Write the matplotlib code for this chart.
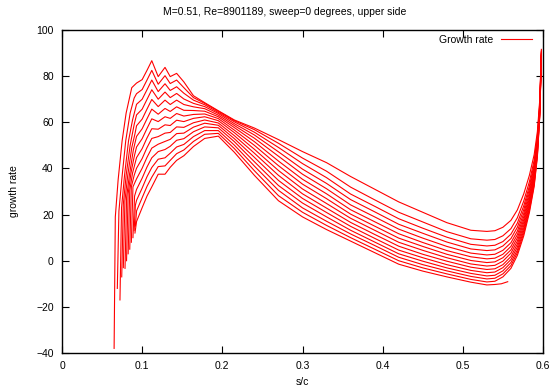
import matplotlib
matplotlib.use("Agg")
import matplotlib.pyplot as plt
from matplotlib.ticker import FuncFormatter

plt.rcParams['font.family'] = ['Liberation Sans', 'DejaVu Sans']

title = "M=0.51, Re=8901189, sweep=0 degrees, upper side"
xlabel = "s/c"
ylabel = "growth rate"
legend_label = "Growth rate"

# shared s/c grid for the middle part of every curve
GRID_X = [0.093, 0.100, 0.106, 0.112, 0.120, 0.1285, 0.135, 0.143, 0.152, 0.164,
          0.178, 0.195, 0.215, 0.24, 0.27, 0.30, 0.33, 0.36, 0.39, 0.42, 0.45,
          0.48, 0.51, 0.53]

# growth rate of each curve on GRID_X (top curve first)
GRID_Y = [
    [77, 78.5, 82.5, 86.7, 79.8, 83.8, 79.8, 81.2, 77.5, 71.5, 68.5, 65, 61, 57.5, 52.5, 47.3, 42.5, 36.5, 31, 25.5, 21, 16.5, 13.2, 12.7],
    [72.4, 74.2, 78.3, 82.5, 76.5, 80.2, 76.8, 78.3, 75.0, 70.7, 68.2, 64.8, 60.7, 56.8, 50.9, 44.5, 38.8, 31.9, 26.4, 21.0, 16.8, 12.6, 9.5, 8.9],
    [67.8, 70.0, 74.1, 78.3, 73.3, 76.7, 73.8, 75.4, 72.6, 69.6, 67.6, 64.3, 60.2, 55.7, 49.1, 42.1, 36.0, 28.9, 23.6, 18.2, 14.1, 10.2, 7.1, 6.4],
    [63.2, 65.7, 69.9, 74.1, 70.0, 73.1, 70.7, 72.5, 70.1, 68.2, 66.8, 63.8, 59.4, 54.5, 47.2, 39.7, 33.5, 26.5, 21.2, 15.8, 11.9, 8.1, 5.1, 4.4],
    [58.5, 61.4, 65.7, 69.9, 66.8, 69.6, 67.7, 69.6, 67.7, 66.7, 65.9, 63.1, 58.6, 53.1, 45.3, 37.5, 31.2, 24.2, 19.0, 13.7, 9.8, 6.2, 3.3, 2.5],
    [53.9, 57.2, 61.5, 65.7, 63.5, 66.0, 64.7, 66.7, 65.2, 65.1, 64.8, 62.4, 57.7, 51.6, 43.2, 35.3, 29.0, 22.1, 16.9, 11.7, 7.9, 4.4, 1.7, 0.8],
    [49.3, 52.9, 57.3, 61.5, 60.3, 62.4, 61.7, 63.8, 62.7, 63.4, 63.6, 61.6, 56.6, 50.0, 41.2, 33.2, 26.9, 20.2, 15.0, 9.8, 6.2, 2.8, 0.1, -0.8],
    [44.7, 48.6, 53.2, 57.2, 57.0, 58.9, 58.6, 60.9, 60.3, 61.7, 62.4, 60.7, 55.5, 48.3, 39.1, 31.1, 24.8, 18.4, 13.2, 8.0, 4.5, 1.3, -1.4, -2.3],
    [40.1, 44.3, 49.0, 53.0, 53.8, 55.3, 55.6, 58.0, 57.8, 59.8, 61.0, 59.7, 54.2, 46.6, 37.0, 29.0, 22.8, 16.6, 11.4, 6.3, 2.8, -0.2, -2.8, -3.8],
    [35.5, 40.1, 44.8, 48.8, 50.5, 51.7, 52.6, 55.1, 55.3, 57.9, 59.6, 58.7, 52.9, 44.8, 34.8, 27.0, 20.9, 14.9, 9.7, 4.6, 1.3, -1.7, -4.2, -5.2],
    [30.9, 35.8, 40.6, 44.6, 47.3, 48.2, 49.6, 52.2, 52.9, 55.9, 58.0, 57.6, 51.6, 42.9, 32.6, 25.0, 19.0, 13.2, 8.1, 3.0, -0.2, -3.1, -5.5, -6.6],
    [26.2, 31.5, 36.4, 40.4, 44.0, 44.6, 46.6, 49.3, 50.4, 53.8, 56.4, 56.4, 50.1, 41.0, 30.5, 22.9, 17.1, 11.6, 6.6, 1.5, -1.7, -4.4, -6.8, -7.9],
    [21.6, 27.3, 32.2, 36.2, 40.8, 41.1, 43.5, 46.4, 48.0, 51.7, 54.8, 55.2, 48.6, 39.0, 28.2, 21.0, 15.3, 10.0, 5.0, 0.0, -3.1, -5.7, -8.1, -9.2],
    [17, 23, 28, 32, 37.5, 37.5, 40.5, 43.5, 45.5, 49.5, 53.0, 54.0, 47.0, 37.0, 26.0, 19.0, 13.5, 8.5, 3.5, -1.5, -4.5, -7.0, -9.3, -10.5],
]

# leading (onset) part of each curve
START_X = [
    [0.065, 0.0665, 0.070, 0.075, 0.080, 0.087],
    [0.069, 0.071, 0.0745, 0.0795, 0.085, 0.090],
    [0.0723, 0.0743, 0.078, 0.083, 0.088],
    [0.0745, 0.0765, 0.080, 0.085, 0.090],
    [0.0765, 0.0785, 0.082, 0.087, 0.091],
    [0.0786, 0.0806, 0.084, 0.089],
    [0.0805, 0.0825, 0.086, 0.090],
    [0.0825, 0.0845, 0.088],
    [0.0845, 0.0865, 0.090],
    [0.0865, 0.0885],
    [0.0885, 0.0905],
    [0.090, 0.0915],
    [0.0915],
    [0.091],
]
START_Y = [
    [-38, 19, 35, 52, 64, 75],
    [-12, 21.5, 35, 52, 64, 70.5],
    [-17, 23, 37, 52, 61],
    [-7, 24.5, 37, 50, 59],
    [-3, 26, 37, 49, 55],
    [-3.3, 27.5, 37, 48],
    [0, 29, 38, 45],
    [3, 30.5, 38],
    [5, 32, 37],
    [8, 32],
    [10, 28],
    [13, 24],
    [15],
    [12],
]

# trailing part of each curve
END_X = [[0.54, 0.55, 0.56, 0.568, 0.576, 0.583, 0.589, 0.593, 0.596, 0.598]] * 13 + [[0.54, 0.548, 0.556]]
END_Y = [
    [13.0, 14.5, 17.5, 22, 29, 37, 46, 56, 70, 91.6],
    [9.2, 10.8, 13.9, 18.6, 25.9, 34.2, 43.6, 54.1, 68.7, 91.0],
    [6.7, 8.3, 11.5, 16.3, 23.8, 32.3, 42.0, 52.9, 67.9, 90.7],
    [4.7, 6.4, 9.6, 14.5, 22.1, 30.9, 40.8, 51.9, 67.3, 90.4],
    [2.8, 4.5, 7.8, 12.8, 20.5, 29.5, 39.6, 50.9, 66.6, 90.1],
    [1.1, 2.8, 6.2, 11.3, 19.1, 28.2, 38.5, 50.1, 66.1, 89.8],
    [-0.5, 1.3, 4.7, 9.9, 17.8, 27.0, 37.5, 49.3, 65.5, 89.6],
    [-2.0, -0.2, 3.3, 8.5, 16.6, 25.9, 36.6, 48.5, 65.1, 89.4],
    [-3.5, -1.7, 1.8, 7.2, 15.3, 24.8, 35.6, 47.8, 64.6, 89.1],
    [-4.9, -3.0, 0.5, 5.9, 14.1, 23.8, 34.7, 47.1, 64.1, 88.9],
    [-6.3, -4.4, -0.8, 4.6, 13.0, 22.7, 33.8, 46.4, 63.6, 88.7],
    [-7.6, -5.7, -2.1, 3.5, 11.9, 21.8, 33.0, 45.7, 63.2, 88.5],
    [-8.9, -7.0, -3.3, 2.3, 10.8, 20.8, 32.2, 45.1, 62.8, 88.3],
    [-10.3, -10.0, -9.1],
]

X_TICKS = [0, 0.1, 0.2, 0.3, 0.4, 0.5, 0.6]
Y_TICKS = [-40, -20, 0, 20, 40, 60, 80, 100]

fig = plt.figure(figsize=(5.54, 3.86), dpi=100)
ax = fig.add_axes([62 / 554, 1 - 353 / 386, (543 - 62) / 554, (353 - 30) / 386])

for i in range(len(GRID_Y)):
    xs = list(START_X[i]) + list(GRID_X) + list(END_X[i])
    ys = list(START_Y[i]) + list(GRID_Y[i]) + list(END_Y[i])
    ax.plot(xs, ys, color='#ff0000', lw=0.8, solid_joinstyle='round',
            label=legend_label if i == 0 else None)

ax.set_xlim(X_TICKS[0], X_TICKS[-1])
ax.set_ylim(Y_TICKS[0], Y_TICKS[-1])
ax.set_xticks(X_TICKS)
ax.set_yticks(Y_TICKS)
ax.xaxis.set_major_formatter(FuncFormatter(lambda v, p: f"{v:g}"))
ax.tick_params(direction='in', length=5, width=0.8, top=True, right=True,
               labelsize=7.5, colors='black', pad=6)
for s in ax.spines.values():
    s.set_linewidth(1.0)
    s.set_color('black')

fig.text(285 / 554, 1 - 12 / 386, title, fontsize=7.5, ha='center', va='center')
ax.set_xlabel(xlabel, fontsize=7.5, labelpad=4)
ax.set_ylabel(ylabel, fontsize=7.5, labelpad=12)

ax.legend(loc='upper right', bbox_to_anchor=(0.977, 0.985), frameon=False,
          markerfirst=False, fontsize=7.5, handlelength=3.0, borderpad=0,
          borderaxespad=0, handletextpad=0.7)

fig.savefig("out.png", dpi=100)
